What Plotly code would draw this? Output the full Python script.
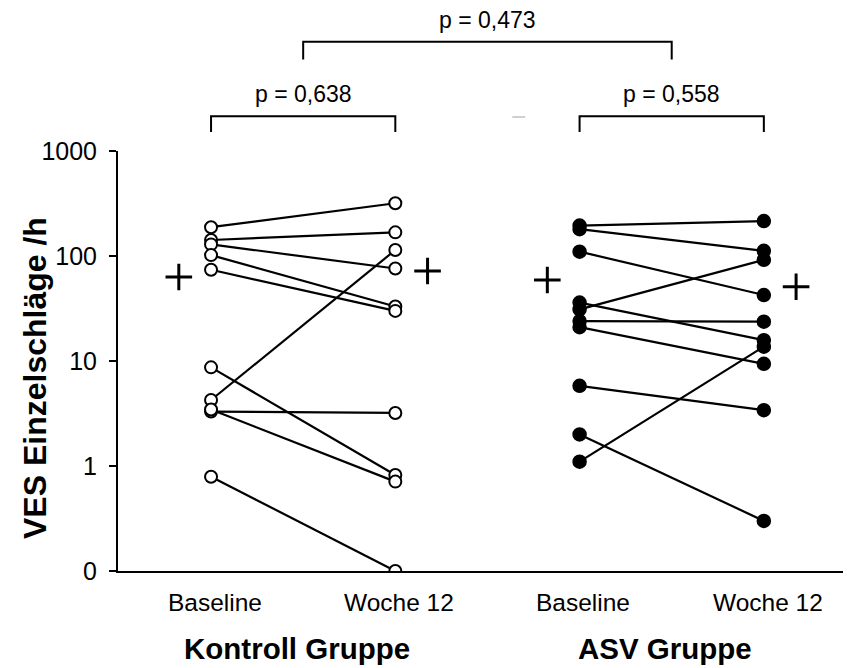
import plotly.graph_objects as go

# ---------------- data ----------------
kontroll_baseline = [188, 142, 129, 102, 74, 8.7, 4.25, 3.3, 3.45, 0.79]
kontroll_woche12 = [318, 168, 76, 33, 30, 0.82, 114, 3.2, 0.71, 0]
asv_baseline = [195, 180, 110, 31, 36, 24, 21, 5.8, 2.0, 1.1]
asv_woche12 = [215, 112, 42.5, 92, 15.8, 23.7, 9.4, 3.4, 0.30, 13.7]

kontroll_means = [63, 72]   # Baseline, Woche 12
asv_means = [59, 51]

time_labels = ["Baseline", "Woche 12", "Baseline", "Woche 12"]
group_labels = ["Kontroll Gruppe", "ASV Gruppe"]
p_within = ["p = 0,638", "p = 0,558"]
p_between = "p = 0,473"

y_tickvals = [0.1, 1, 10, 100, 1000]
y_ticktext = ["0", "1", "10", "100", "1000"]
y_title = "VES Einzelschläge /h"

# ---------------- layout helpers ----------------
X_POS = [1, 2, 3, 4]
FLOOR = 0.1  # value 0 is drawn at the "0" tick of the log axis
FONT = "Arial, 'Liberation Sans', sans-serif"
PAGE_PAD = 8  # default body margin of the html page


def show(v):
    return v if v > 0 else FLOOR


def pair_lines(base, w12, x0, x1):
    xs, ys = [], []
    for b, w in zip(base, w12):
        xs += [x0, x1, None]
        ys += [show(b), show(w), None]
    return xs, ys


fig = go.Figure()

# connecting lines
for base, w12, x0, x1 in [(kontroll_baseline, kontroll_woche12, X_POS[0], X_POS[1]),
                          (asv_baseline, asv_woche12, X_POS[2], X_POS[3])]:
    xs, ys = pair_lines(base, w12, x0, x1)
    fig.add_trace(go.Scatter(x=xs, y=ys, mode="lines",
                             line=dict(color="black", width=2.2),
                             hoverinfo="skip", showlegend=False))

# Kontroll markers (open circles)
fig.add_trace(go.Scatter(
    x=[X_POS[0]] * len(kontroll_baseline) + [X_POS[1]] * len(kontroll_woche12),
    y=[show(v) for v in kontroll_baseline + kontroll_woche12],
    mode="markers",
    marker=dict(symbol="circle", size=12, color="white",
                line=dict(color="black", width=2)),
    showlegend=False))

# ASV markers (filled circles)
fig.add_trace(go.Scatter(
    x=[X_POS[2]] * len(asv_baseline) + [X_POS[3]] * len(asv_woche12),
    y=[show(v) for v in asv_baseline + asv_woche12],
    mode="markers",
    marker=dict(symbol="circle", size=13, color="black",
                line=dict(color="black", width=1.5)),
    showlegend=False))

# mean markers (+)
OFF = 0.175
fig.add_trace(go.Scatter(
    x=[X_POS[0] - OFF, X_POS[1] + OFF, X_POS[2] - OFF, X_POS[3] + OFF],
    y=kontroll_means + asv_means,
    mode="markers",
    marker=dict(symbol="cross-thin", size=19,
                line=dict(color="black", width=3)),
    showlegend=False))

# ---------------- brackets and p-values ----------------
shapes = []
annotations = []


def bracket(x0, x1, y_top, y_leg):
    return dict(type="path", xref="x", yref="paper",
                path=f"M {x0},{y_leg} L {x0},{y_top} L {x1},{y_top} L {x1},{y_leg}",
                line=dict(color="black", width=2))


shapes.append(bracket(X_POS[0], X_POS[1], 1.083, 1.045))
shapes.append(bracket(X_POS[2], X_POS[3], 1.083, 1.045))
shapes.append(bracket((X_POS[0] + X_POS[1]) / 2, (X_POS[2] + X_POS[3]) / 2, 1.26, 1.218))
# faint grey dash (artefact in the original figure)
shapes.append(dict(type="line", xref="x", yref="paper", x0=2.635, x1=2.705,
                   y0=1.081, y1=1.081, line=dict(color="#d0d0d0", width=2)))

for i, txt in enumerate(p_within):
    annotations.append(dict(text=txt, xref="x", yref="paper",
                            x=(X_POS[2 * i] + X_POS[2 * i + 1]) / 2, y=1.135,
                            showarrow=False, xanchor="center", yanchor="middle",
                            font=dict(family=FONT, size=23, color="black")))
annotations.append(dict(text=p_between, xref="x", yref="paper",
                        x=2.5, y=1.312, showarrow=False,
                        xanchor="center", yanchor="middle",
                        font=dict(family=FONT, size=23, color="black")))

# category labels
for xp, lab in zip(X_POS, time_labels):
    annotations.append(dict(text=lab, xref="x", yref="paper", x=xp + 0.02, y=-0.076,
                            showarrow=False, xanchor="center", yanchor="middle",
                            font=dict(family=FONT, size=24.5, color="black")))
# group labels
for i, lab in enumerate(group_labels):
    annotations.append(dict(text=f"<b>{lab}</b>", xref="x", yref="paper",
                            x=(X_POS[2 * i] + X_POS[2 * i + 1]) / 2 - 0.035, y=-0.185,
                            showarrow=False, xanchor="center", yanchor="middle",
                            font=dict(family=FONT, size=29.5, color="black")))
# y title
annotations.append(dict(text=f"<b>{y_title}</b>", xref="paper", yref="paper",
                        x=-0.113, y=0.46, textangle=-90, showarrow=False,
                        xanchor="center", yanchor="middle",
                        font=dict(family=FONT, size=32, color="black")))

fig.update_layout(
    width=851 - PAGE_PAD, height=668 - PAGE_PAD,
    margin=dict(l=118 - PAGE_PAD, r=0, t=151 - PAGE_PAD, b=97),
    paper_bgcolor="white", plot_bgcolor="white",
    shapes=shapes, annotations=annotations,
    showlegend=False,
    font=dict(family=FONT, color="black"),
)

fig.update_xaxes(range=[0.495, 4.473], showline=True, linecolor="black", linewidth=2,
                 showgrid=False, zeroline=False, ticks="", showticklabels=False)
fig.update_yaxes(type="log", range=[-1, 3], showline=True, linecolor="black", linewidth=2,
                 showgrid=False, zeroline=False, ticks="outside", ticklen=7, tickwidth=2,
                 tickcolor="black", tickvals=y_tickvals, ticktext=y_ticktext,
                 tickfont=dict(family=FONT, size=25, color="black"),
                 ticklabelstandoff=7)

fig.write_html("out.html")
